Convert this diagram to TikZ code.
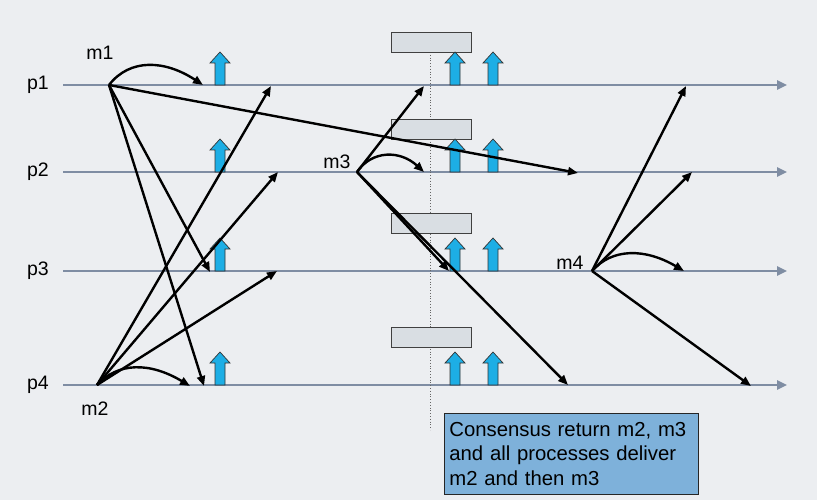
\documentclass[tikz,border=0pt]{standalone}
\usepackage{fontspec}
\setmainfont{Liberation Sans}
\usetikzlibrary{arrows.meta}
\definecolor{bgc}{HTML}{ECEEF1}
\definecolor{proc}{HTML}{7F8DA3}
\definecolor{upblue}{HTML}{1DAEE5}
\definecolor{boxgray}{HTML}{D9DEE3}
\definecolor{notec}{HTML}{7EB1DA}
\tikzset{
  procline/.style={draw=proc, line width=2.4pt, -{Triangle[length=10pt,width=9pt]}},
  msg/.style={draw=black, line width=2.4pt, -{Triangle[length=10pt,width=8pt]}},
  plabel/.style={font=\fontsize{19.5pt}{22pt}\selectfont, inner sep=0pt},
  cbox/.style={draw=black!75, fill=boxgray, line width=0.8pt},
  upar/.pic={\draw[fill=upblue, draw=black!80, line width=0.7pt]
     (-5,0) -- (-5,-22) -- (-10,-22) -- (0,-33) -- (10,-22) -- (5,-22) -- (5,0) -- cycle;}
}
\begin{document}
\begin{tikzpicture}[x=1pt,y=-1pt]
\useasboundingbox (0,0) rectangle (817,500);
\fill[bgc] (0,0) rectangle (817,500);
% process lines
\foreach \n/\y in {1/85,2/172,3/271,4/385}{
  \coordinate (s\n) at (63,\y);
  \coordinate (e\n) at (787,\y);
  \draw[procline] (s\n) -- (e\n);
  \node[plabel] (lp\n) at (38,\y) {p\n};
}
% dotted line
\coordinate (dtop) at (430,52);
\coordinate (dbot) at (430,430);
\draw[black!60, dotted, line width=0.8pt] (dtop) -- (dbot);
% consensus boxes
\foreach \t/\n in {32/1,119/2,213/3,327/4}{
  \draw[cbox] (391,\t) rectangle (471,\t+20);
}
% blue up arrows
\foreach \y in {85,172,271,385}{
  \pic at (220,\y) {upar};
  \pic at (455,\y) {upar};
  \pic at (493,\y) {upar};
}
% message labels
\node[plabel] (lm1) at (100,53) {m1};
\node[plabel] (lm2) at (95,409) {m2};
\node[plabel] (lm3) at (337,162) {m3};
\node[plabel] (lm4) at (570,263) {m4};
% origins
\coordinate (m1) at (109,85);
\coordinate (m2) at (97,385);
\coordinate (m3) at (357,172);
\coordinate (m4) at (592,271);
% targets
\coordinate (a1s) at (203,85);
\coordinate (a12) at (578,173);
\coordinate (a13) at (210,272);
\coordinate (a14) at (204,386);
\coordinate (a2s) at (190,386);
\coordinate (a21) at (271,86);
\coordinate (a22) at (278,172);
\coordinate (a23) at (277,271);
\coordinate (a3s) at (424,172);
\coordinate (a31) at (424,86);
\coordinate (a33) at (449,271);
\coordinate (a34) at (568,385);
\coordinate (a4s) at (684,271);
\coordinate (a41) at (686,86);
\coordinate (a42) at (692,172);
\coordinate (a44) at (751,386);
% m1
\draw[msg] (m1) .. controls (130,58) and (165,60) .. (a1s);
\draw[msg] (m1) -- (a12);
\draw[msg] (m1) -- (a13);
\draw[msg] (m1) -- (a14);
% m2
\draw[msg] (m2) .. controls (118,362) and (150,362) .. (a2s);
\draw[msg] (m2) -- (a21);
\draw[msg] (m2) -- (a22);
\draw[msg] (m2) -- (a23);
% m3
\draw[msg] (m3) .. controls (372,150) and (400,150) .. (a3s);
\draw[msg] (m3) -- (a31);
\draw[msg] (m3) -- (a33);
\draw[msg] (m3) -- (a34);
% m4
\draw[msg] (m4) .. controls (612,248) and (645,248) .. (a4s);
\draw[msg] (m4) -- (a41);
\draw[msg] (m4) -- (a42);
\draw[msg] (m4) -- (a44);
% note
\node[draw=black!85, fill=notec, line width=0.8pt, anchor=north west,
      minimum width=254pt, minimum height=81pt, inner sep=5pt,
      align=left, text width=244pt, font=\fontsize{20.3pt}{24.5pt}\selectfont]
  (note) at (444,413) {Consensus return m2, m3\\and all processes deliver\\m2 and then m3};
\end{tikzpicture}
\end{document}
